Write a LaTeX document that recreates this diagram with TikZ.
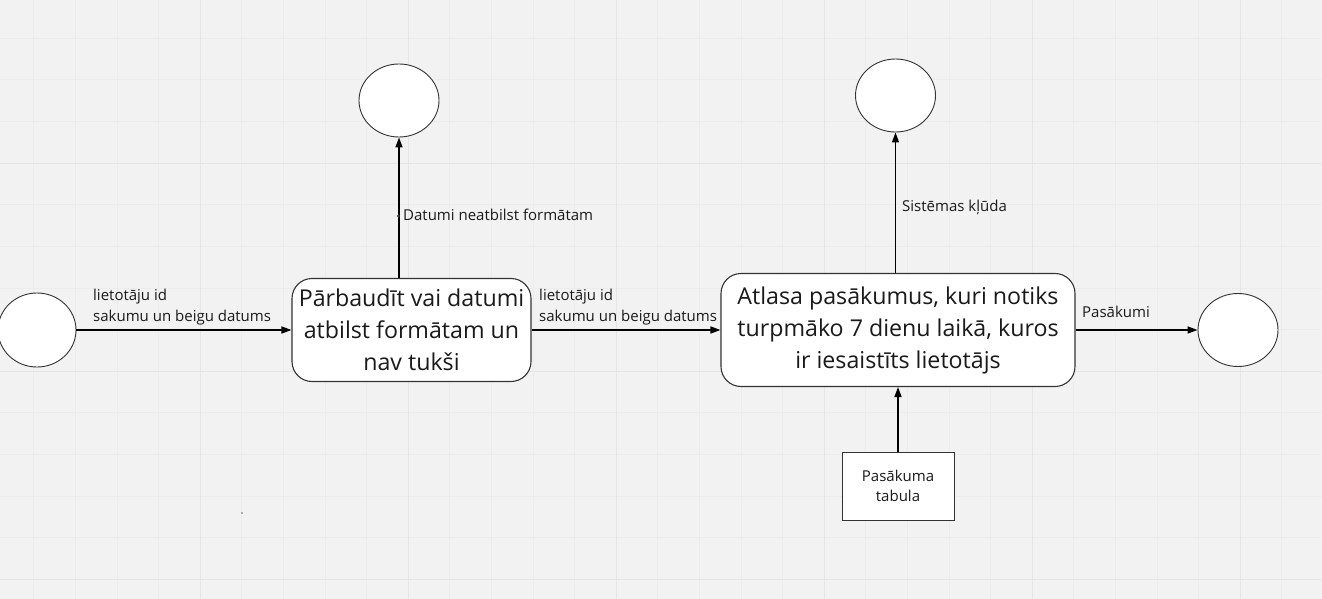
\documentclass[tikz,border=0pt]{standalone}
\usepackage{fontspec}
\setmainfont{Open Sans}
\usetikzlibrary{shapes.geometric,arrows.meta}
\definecolor{bgc}{HTML}{F2F2F2}
\definecolor{minorc}{HTML}{ECECEC}
\definecolor{majorc}{HTML}{E5E5E5}
\definecolor{linec}{HTML}{333333}
\definecolor{txtc}{HTML}{1A1A1A}
\begin{document}
\begin{tikzpicture}[x=1pt,y=-1pt,
  circ/.style={ellipse, draw=linec, line width=0.9pt, fill=white, minimum width=80pt, minimum height=73pt, inner sep=0pt},
  proc/.style={rounded corners=20pt, draw=linec, line width=1.1pt, fill=white, align=center, text=txtc, inner sep=0pt, font=\fontsize{23.2}{32}\selectfont},
  tbl/.style={draw=linec, line width=1pt, fill=white, align=center, text=txtc, inner sep=0pt, minimum width=112pt, minimum height=68pt, font=\fontsize{15}{20}\selectfont},
  arr/.style={-{Triangle[length=10pt,width=7pt]}, line width=1.5pt, draw=black},
  lbl/.style={text=txtc, inner sep=0pt, align=left, font=\fontsize{15}{21}\selectfont},
  minor/.style={draw=minorc, line width=0.6pt},
  major/.style={draw=majorc, line width=0.9pt}]
\useasboundingbox (0,0) rectangle (1322,599);
\fill[bgc] (0,0) rectangle (1322,599);
% grid
\foreach \i in {0,...,33} { \draw[minor] ({-8+\i*41.6},0) -- ({-8+\i*41.6},599); }
\foreach \i in {0,...,15} { \draw[minor] (0,{-3.4+\i*41.6}) -- (1322,{-3.4+\i*41.6}); }
\foreach \i in {0,...,5} { \draw[major] ({200+\i*208},0) -- ({200+\i*208},599); }
\foreach \i in {0,...,2} { \draw[major] (0,{163+\i*208}) -- (1322,{163+\i*208}); }
% nodes
\node[circ, minimum width=78pt, minimum height=74pt] (lc) at (37,330) {};
\node[circ] (t1) at (399,100.5) {};
\node[circ] (t2) at (895.5,95.5) {};
\node[circ] (rc) at (1238,330) {};
\node[proc, minimum width=239pt, minimum height=103pt] (b1) at (411.5,330) {Pārbaudīt vai datumi\\atbilst formātam un\\nav tukši};
\node[proc, minimum width=354pt, minimum height=113pt] (b2) at (898,330) {Atlasa pasākumus, kuri notiks\\turpmāko 7 dienu laikā, kuros\\ir iesaistīts lietotājs};
\node[tbl] (b3) at (898,486) {Pasākuma\\tabula};
% connectors
\draw[arr] (lc.east) -- (b1.west);
\draw[arr] (b1.east) -- (b2.west);
\draw[arr] (b2.east) -- (rc.west);
\draw[arr] (t1 |- b1.north) -- (t1.south);
\draw[arr] (t2 |- b2.north) -- (t2.south);
\draw[arr] (b3.north) -- (b2.south);
% labels
\node[lbl, anchor=south west] (l1) at (93,325) {lietotāju id\\sakumu un beigu datums};
\node[lbl, anchor=south west] (l2) at (539,325) {lietotāju id\\sakumu un beigu datums};
\node[lbl, anchor=base west] (l3) at (1082,317.5) {Pasākumi};
\node[lbl, anchor=base west] (l4) at (403,220.5) {Datumi neatbilst formātam};
\node[lbl, anchor=base west] (l5) at (902,211.5) {Sistēmas kļūda};
\fill[linec] (398.5,216) circle (1.6pt);
\fill[linec!70] (242,513) circle (0.8pt);
\end{tikzpicture}
\end{document}
